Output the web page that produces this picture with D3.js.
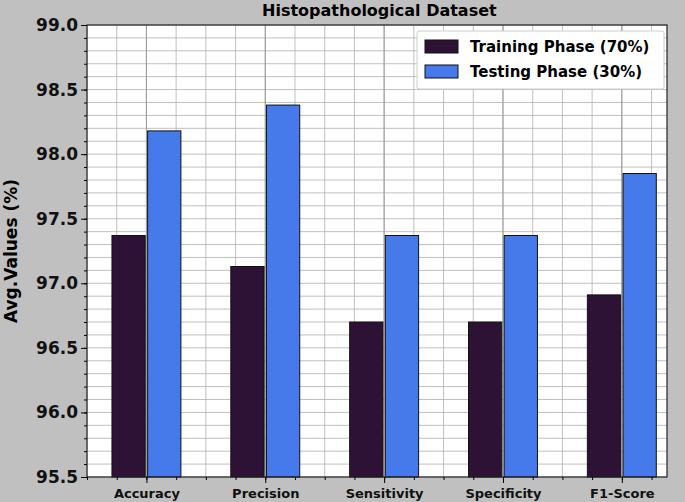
<!DOCTYPE html>
<html>
<head>
<script src="https://cdn.jsdelivr.net/npm/d3@7"></script>
<style>
  body { margin: 0; background: #c0c0c0; }
  text { font-family: "DejaVu Sans", sans-serif; font-weight: bold; }
</style>
</head>
<body>
<svg id="chart" width="685" height="502"></svg>
<script>
// data
const categories = ["Accuracy", "Precision", "Sensitivity", "Specificity", "F1-Score"];
const trainValues = [97.37, 97.13, 96.70, 96.70, 96.91];
const testValues = [98.18, 98.38, 97.37, 97.37, 97.85];
const seriesNames = ["Training Phase (70%)", "Testing Phase (30%)"];
const yTicks = [95.5, 96.0, 96.5, 97.0, 97.5, 98.0, 98.5, 99.0];

const colors = ["#2e1236", "#4679ea"];
const margin = { left: 87, right: 18, top: 25, bottom: 25 };
const width = 685, height = 502;

const svg = d3.select("#chart");

const x = d3.scaleLinear().domain([-0.5, 4.38]).range([margin.left, width - margin.right]);
const y = d3.scaleLinear().domain([95.5, 99.0]).range([height - margin.bottom, margin.top]);

// plot background
svg.append("rect")
    .attr("x", x(-0.5)).attr("y", y(99))
    .attr("width", x(4.38) - x(-0.5)).attr("height", y(95.5) - y(99))
    .attr("fill", "white");

// grid, minor then major
const yMinor = d3.range(95.5, 99.001, 0.1);
const xMinor = d3.range(-0.5, 4.38, 0.25);
const grid = svg.append("g");
grid.selectAll(".hy").data(yMinor).join("line")
    .attr("x1", x(-0.5)).attr("x2", x(4.38))
    .attr("y1", d => y(d)).attr("y2", d => y(d))
    .attr("stroke", "#b0b0b0").attr("stroke-width", 0.8);
grid.selectAll(".vx").data(xMinor).join("line")
    .attr("y1", y(95.5)).attr("y2", y(99))
    .attr("x1", d => x(d)).attr("x2", d => x(d))
    .attr("stroke", "#b0b0b0").attr("stroke-width", 0.8);
grid.selectAll(".vmaj").data(d3.range(0, 5)).join("line")
    .attr("y1", y(95.5)).attr("y2", y(99))
    .attr("x1", d => x(d)).attr("x2", d => x(d))
    .attr("stroke", "#999").attr("stroke-width", 1);

// bars
const barW = 0.28;
[trainValues, testValues].forEach((vals, s) => {
    svg.append("g").selectAll("rect").data(vals).join("rect")
        .attr("x", (d, i) => x(s === 0 ? i - barW - 0.01 : i + 0.01))
        .attr("width", x(barW) - x(0))
        .attr("y", d => y(d))
        .attr("height", d => y(95.5) - y(d))
        .attr("fill", colors[s])
        .attr("stroke", "#111").attr("stroke-width", 1);
});

// frame
svg.append("rect")
    .attr("x", x(-0.5)).attr("y", y(99))
    .attr("width", x(4.38) - x(-0.5)).attr("height", y(95.5) - y(99))
    .attr("fill", "none").attr("stroke", "#222").attr("stroke-width", 1.2);

// y axis
const yAxis = svg.append("g").attr("transform", `translate(${x(-0.5)},0)`)
    .call(d3.axisLeft(y).tickValues(yTicks).tickFormat(d3.format(".1f")).tickSize(6));
yAxis.select(".domain").remove();
yAxis.selectAll("text").style("font-size", "17px").attr("fill", "#111");
svg.append("g").attr("transform", `translate(${x(-0.5)},0)`)
    .call(d3.axisLeft(y).tickValues(yMinor).tickFormat("").tickSize(3))
    .select(".domain").remove();

// x axis
const xAxis = svg.append("g").attr("transform", `translate(0,${y(95.5)})`)
    .call(d3.axisBottom(x).tickValues(d3.range(0, 5)).tickFormat(i => categories[i]).tickSize(6));
xAxis.select(".domain").remove();
xAxis.selectAll("text").style("font-size", "13px").attr("fill", "#111").attr("dy", "0.9em");
svg.append("g").attr("transform", `translate(0,${y(95.5)})`)
    .call(d3.axisBottom(x).tickValues(xMinor).tickFormat("").tickSize(3))
    .select(".domain").remove();

// labels
svg.append("text").attr("x", x(1.96)).attr("y", 16)
    .attr("text-anchor", "middle").style("font-size", "16px").text("Histopathological Dataset");
svg.append("text")
    .attr("transform", `translate(17,${(y(95.5) + y(99)) / 2}) rotate(-90)`)
    .attr("text-anchor", "middle").style("font-size", "17px").text("Avg.Values (%)");

// legend
const lg = svg.append("g").attr("transform", "translate(417,31)");
lg.append("rect").attr("width", 247).attr("height", 58)
    .attr("fill", "white").attr("stroke", "#ccc").attr("rx", 2);
seriesNames.forEach((name, s) => {
    const row = lg.append("g").attr("transform", `translate(8,${9 + s * 25})`);
    row.append("rect").attr("width", 33).attr("height", 13)
        .attr("fill", colors[s]).attr("stroke", "#111");
    row.append("text").attr("x", 45).attr("y", 12).style("font-size", "15px").text(name);
});
</script>
</body>
</html>
